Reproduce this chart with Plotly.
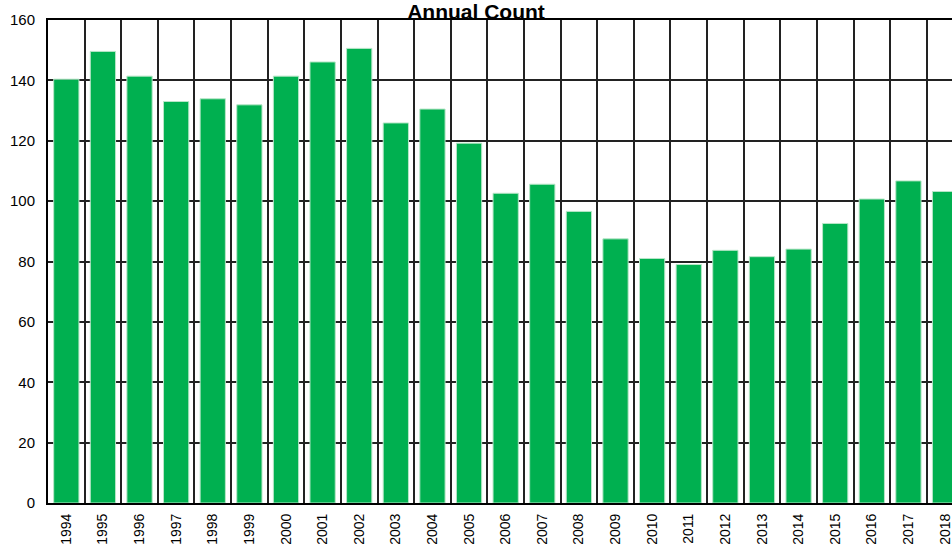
import plotly.graph_objects as go

years = [str(y) for y in range(1994, 2019)]
counts = [140.4, 149.6, 141.4, 133.0, 133.9, 131.9, 141.4, 146.1, 150.6, 125.9,
          130.5, 119.2, 102.6, 105.6, 96.6, 87.5, 81.0, 79.0, 83.7, 81.6,
          84.1, 92.6, 100.7, 106.7, 103.2]
y_ticks = [0, 20, 40, 60, 80, 100, 120, 140, 160]

fig = go.Figure(go.Bar(
    x=years, y=counts,
    marker=dict(color="#00B050", line=dict(color="#B8E6C8", width=1)),
))

fig.update_layout(
    width=952, height=546,
    margin=dict(l=48, r=0, t=20, b=43, autoexpand=False),
    paper_bgcolor="white", plot_bgcolor="white",
    bargap=0.31,
    showlegend=False,
    font=dict(family="Liberation Sans, Arial, sans-serif", size=15, color="black"),
    title=dict(text="<b>Annual Count</b>", x=0.5, xanchor="center",
               y=1, yref="paper", yanchor="bottom", pad=dict(b=1),
               font=dict(size=21, color="black")),
)
fig.update_xaxes(
    type="category", range=[-0.5, 24.19], tickson="boundaries",
    showgrid=True, gridcolor="#222222", gridwidth=1.5,
    showline=True, linecolor="black", linewidth=2, mirror=True,
    ticks="", tickangle=-90, tickfont=dict(size=14), ticklabelstandoff=3,
)
fig.update_yaxes(
    range=[0, 160], tickvals=y_ticks, showgrid=True, gridcolor="#222222",
    gridwidth=1.5, showline=True, linecolor="black", linewidth=2,
    ticks="", zeroline=False, tickfont=dict(size=15), ticklabelstandoff=8,
)

fig.write_html("out.html", config={"displayModeBar": False},
               post_script="document.body.style.margin='0';document.body.style.overflow='hidden';")
